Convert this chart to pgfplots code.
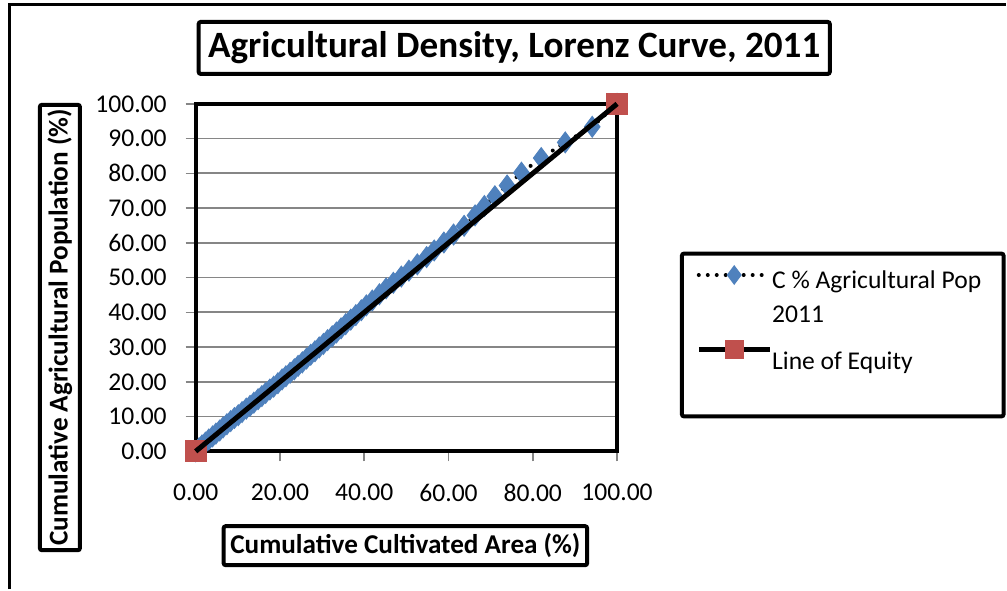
\documentclass[border=0pt]{standalone}
\usepackage{pgfplots}
\pgfplotsset{compat=1.18}
\usepackage{fontspec}
\setmainfont{Carlito}
\definecolor{xlblue}{HTML}{4F81BD}
\definecolor{xlred}{HTML}{C0504D}
\definecolor{gridgray}{HTML}{868686}
\begin{document}
\begin{tikzpicture}[x=1pt,y=1pt]
\path (-98,-69) rectangle (405.5,226);
% outer chart frame (cropped)
\draw[line width=1.5pt] (-93,-69) -- (-93,223.5) -- (405.5,223.5);
\begin{axis}[
  set layers,
  at={(0,0)}, anchor=south west,
  scale only axis, width=211pt, height=174pt,
  xmin=0, xmax=100, ymin=0, ymax=100,
  xtick={0,20,...,100}, ytick={0,10,...,100},
  tick pos=left, tick align=outside, major tick length=5pt,
  tick style={gridgray, line width=0.8pt},
  ymajorgrids, grid style={gridgray, line width=0.9pt},
  axis line style={black, line width=2pt},
  clip=false,
  /pgf/number format/.cd, fixed, fixed zerofill, precision=2, assume math mode=true,
  /pgfplots/.cd,
  ticklabel style={font=\fontsize{12.8pt}{15pt}\selectfont},
  xticklabel style={yshift=-8pt},
  yticklabel style={xshift=-6pt},
  legend style={at={(rel axis cs:1.187,0.535)}, anchor=north west, draw=none, fill=none,
    font=\fontsize{12.8pt}{15pt}\selectfont, row sep=3pt, inner sep=0pt, column sep=-2pt},
  legend cell align=left,
  legend image post style={mark size=4.6pt},
  legend image code/.code={\draw[#1, mark repeat=2, mark phase=2] plot coordinates {(0pt,3.2pt)(17.75pt,3.2pt)(35.5pt,3.2pt)};},
]
\addplot[black, dash pattern=on 0pt off 4.5pt, line cap=round, line width=2pt, mark=diamond*, mark size=5.2pt,
  mark options={solid, fill=xlblue, draw=xlblue, line width=0.5pt}] coordinates {
(0,0) (0.8,0.9) (1.5,1.7) (2.3,2.5) (3.1,3.4) (4.0,4.3) (4.8,5.1) (5.7,6.0) (6.5,6.9)
(7.4,7.8) (8.3,8.7) (9.2,9.6) (10.1,10.4) (11.0,11.3) (12.0,12.3) (12.9,13.1) (13.8,14.0)
(14.8,15.0) (15.7,15.9) (16.6,16.8) (17.6,17.8) (18.5,18.6) (19.5,19.6) (20.5,20.7)
(21.4,21.6) (22.4,22.6) (23.4,23.6) (24.3,24.6) (25.3,25.6) (26.3,26.7) (27.3,27.8)
(28.3,28.8) (29.3,29.9) (30.3,30.9) (31.3,32.0) (32.4,33.1) (33.4,34.2) (34.5,35.4)
(35.6,36.6) (36.8,37.9) (38.0,39.2) (39.3,40.6) (40.5,42.0) (41.9,43.4) (43.6,45.2)
(45.2,46.9) (46.9,48.5) (48.8,50.3) (50.6,52.0) (52.6,53.8) (54.8,55.9) (56.6,57.8)
(58.9,60.1) (61.2,62.4) (63.7,64.9) (66.3,67.9) (68.5,70.6) (71.0,73.4) (73.9,76.5)
(77.3,80.2) (82.0,84.4) (87.7,88.9) (94.1,93.4) (100,100)
};
\addlegendentry{C \% Agricultural Pop}
\addlegendimage{empty legend}
\addlegendentry{2011}
\addplot[on layer=axis foreground, black, line width=2.5pt, mark=square*, mark size=5.2pt,
  mark options={fill=xlred, draw=xlred, line width=0pt}] coordinates {(0,0) (100,100)};
\addlegendentry[text height=15pt]{Line of Equity}
\end{axis}
% title
\node[draw, line width=2pt, rounded corners=1pt, minimum width=316pt, minimum height=26pt, inner sep=0pt,
  font=\bfseries\fontsize{18.6pt}{22pt}\selectfont] at (159.5,202) {Agricultural Density, Lorenz Curve, 2011};
% y label
\node[draw, line width=2pt, rounded corners=1pt, minimum width=223pt, minimum height=20pt, inner sep=0pt, rotate=90,
  font=\bfseries\fontsize{13.6pt}{16pt}\selectfont] at (-68,62) {Cumulative Agricultural Population (\%)};
% x label
\node[draw, line width=2pt, rounded corners=1pt, minimum width=182pt, minimum height=19.5pt, inner sep=0pt,
  font=\bfseries\fontsize{13.6pt}{16pt}\selectfont] at (105,-47.25) {Cumulative Cultivated Area (\%)};
% legend frame
\draw[line width=2pt, rounded corners=1pt] (243.5,17.5) rectangle (404.5,99);
\end{tikzpicture}
\end{document}
